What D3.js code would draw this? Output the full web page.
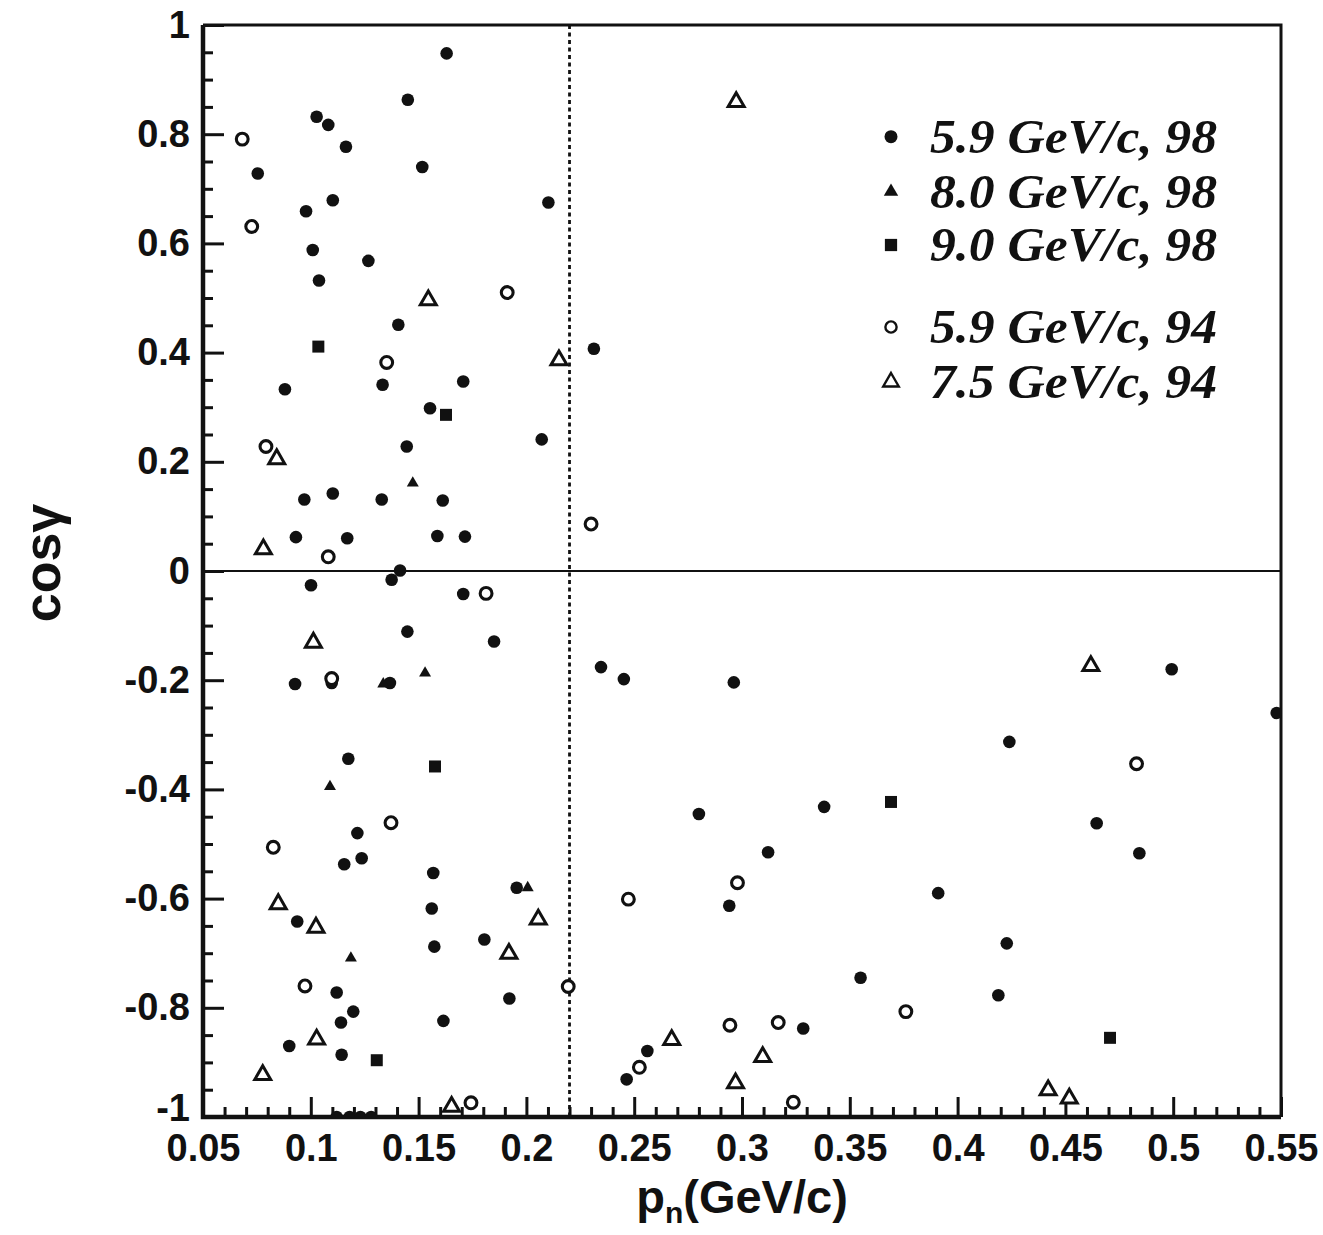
<!DOCTYPE html>
<html>
<head>
<meta charset="utf-8">
<script src="https://cdn.jsdelivr.net/npm/d3@7"></script>
<style>
  html, body { margin: 0; padding: 0; background: #fff; }
  svg { display: block; }
</style>
</head>
<body>
<svg id="chart" width="1323" height="1235"></svg>
<script>
// Axis ticks and labels
const xTicks = [0.05, 0.1, 0.15, 0.2, 0.25, 0.3, 0.35, 0.4, 0.45, 0.5, 0.55];
const xTickLabels = ["0.05", "0.1", "0.15", "0.2", "0.25", "0.3", "0.35", "0.4", "0.45", "0.5", "0.55"];
const yTicks = [-1, -0.8, -0.6, -0.4, -0.2, 0, 0.2, 0.4, 0.6, 0.8, 1];
const yTickLabels = ["-1", "-0.8", "-0.6", "-0.4", "-0.2", "0", "0.2", "0.4", "0.6", "0.8", "1"];
const cutMomentum = 0.22;

// Series: [p_n (GeV/c), cos gamma]
const filledCircle59_98 = [
  [0.163, 0.948], [0.145, 0.863], [0.1027, 0.832], [0.1081, 0.817], [0.1163, 0.777],
  [0.1517, 0.740], [0.0754, 0.728], [0.1102, 0.679], [0.2102, 0.675], [0.0978, 0.659],
  [0.1009, 0.588], [0.1267, 0.568], [0.1038, 0.532], [0.1406, 0.451], [0.2313, 0.407],
  [0.088, 0.333], [0.1333, 0.341], [0.1707, 0.347], [0.1553, 0.298], [0.2071, 0.241],
  [0.1445, 0.228], [0.097, 0.131], [0.1102, 0.142], [0.1329, 0.131], [0.1612, 0.129],
  [0.0931, 0.062], [0.1169, 0.060], [0.1587, 0.064], [0.1715, 0.063], [0.1414, 0.001],
  [0.1375, -0.016], [0.1001, -0.026], [0.1707, -0.042], [0.1448, -0.111], [0.185, -0.129],
  [0.0927, -0.207], [0.1097, -0.205], [0.1367, -0.205], [0.1174, -0.344], [0.1216, -0.480],
  [0.1155, -0.537], [0.1236, -0.526], [0.1568, -0.553], [0.1561, -0.618], [0.1955, -0.580],
  [0.0937, -0.642], [0.1573, -0.688], [0.1805, -0.675], [0.112, -0.772], [0.1921, -0.783],
  [0.1197, -0.807], [0.114, -0.827], [0.1615, -0.824], [0.09, -0.870], [0.1143, -0.886],
  [0.2346, -0.176], [0.2452, -0.198], [0.2962, -0.204], [0.28, -0.445], [0.3121, -0.515],
  [0.3381, -0.432], [0.391, -0.590], [0.2941, -0.613], [0.355, -0.745], [0.3284, -0.838],
  [0.2561, -0.879], [0.2465, -0.931], [0.4993, -0.180], [0.548, -0.260], [0.424, -0.313],
  [0.4645, -0.462], [0.4843, -0.517], [0.4228, -0.682], [0.4189, -0.777],
  [0.112, -1.0], [0.118, -1.0], [0.123, -1.0], [0.128, -1.0]
];
const filledTriangle80_98 = [
  [0.1473, 0.161], [0.153, -0.187], [0.1336, -0.207], [0.1089, -0.395], [0.2006, -0.580],
  [0.1186, -0.709]
];
const filledSquare90_98 = [
  [0.1035, 0.411], [0.1627, 0.286], [0.1576, -0.358], [0.3691, -0.423], [0.1306, -0.896],
  [0.4707, -0.855]
];
const openCircle59_94 = [
  [0.0682, 0.791], [0.0726, 0.631], [0.1911, 0.510], [0.1352, 0.382], [0.0792, 0.228],
  [0.230, 0.086], [0.1081, 0.026], [0.1813, -0.041], [0.1097, -0.197], [0.1372, -0.461],
  [0.0826, -0.506], [0.0973, -0.760], [0.2194, -0.761], [0.1743, -0.974], [0.2979, -0.571],
  [0.2473, -0.601], [0.376, -0.807], [0.2944, -0.832], [0.3168, -0.827], [0.2524, -0.909],
  [0.3238, -0.973], [0.483, -0.353]
];
const openTriangle75_94 = [
  [0.2973, 0.859], [0.1545, 0.496], [0.2151, 0.386], [0.0842, 0.205], [0.078, 0.040],
  [0.1012, -0.131], [0.0849, -0.610], [0.1024, -0.653], [0.2055, -0.638], [0.1919, -0.701],
  [0.1027, -0.858], [0.0777, -0.923], [0.1653, -0.981], [0.2674, -0.859], [0.3096, -0.890],
  [0.297, -0.938], [0.4618, -0.174], [0.442, -0.951], [0.4518, -0.966]
];

const legendLabels = ["5.9 GeV/c, 98", "8.0 GeV/c, 98", "9.0 GeV/c, 98", "5.9 GeV/c, 94", "7.5 GeV/c, 94"];

// Layout
const plotLeft = 203, plotTop = 25, plotRight = 1281, plotBottom = 1117;
const ink = "#111";

const svg = d3.select("#chart");
const x = d3.scaleLinear().domain([0.05, 0.55]).range([plotLeft, plotRight]);
const y = d3.scaleLinear().domain([-1, 1]).range([plotBottom, plotTop]);

svg.append("defs").append("clipPath").attr("id", "plotClip")
  .append("rect").attr("x", plotLeft).attr("y", plotTop)
  .attr("width", plotRight - plotLeft).attr("height", plotBottom - plotTop);

// Minor ticks
const xMinor = d3.range(0.05, 0.5501, 0.01).map(v => +v.toFixed(3)).filter(v => !xTicks.some(t => Math.abs(t - v) < 1e-6));
const yMinor = d3.range(-1, 1.0001, 0.05).map(v => +v.toFixed(3)).filter(v => !yTicks.some(t => Math.abs(t - v) < 1e-6));

const tickFont = "'Liberation Sans', Arial, Helvetica, sans-serif";

const gxMinor = svg.append("g").attr("transform", `translate(0,${plotBottom})`)
  .call(d3.axisBottom(x).tickValues(xMinor).tickSize(-10).tickFormat(""));
const gx = svg.append("g").attr("transform", `translate(0,${plotBottom})`)
  .call(d3.axisBottom(x).tickValues(xTicks).tickSize(-20).tickPadding(17)
    .tickFormat((d, i) => xTickLabels[i]));
const gyMinor = svg.append("g").attr("transform", `translate(${plotLeft},0)`)
  .call(d3.axisLeft(y).tickValues(yMinor).tickSize(-10).tickFormat(""));
const gy = svg.append("g").attr("transform", `translate(${plotLeft},0)`)
  .call(d3.axisLeft(y).tickValues(yTicks).tickSize(-21).tickPadding(13)
    .tickFormat((d, i) => yTickLabels[i]));

[gxMinor, gx, gyMinor, gy].forEach(g => {
  g.select(".domain").remove();
  g.selectAll(".tick line").attr("stroke", ink).attr("stroke-width", 3);
  g.selectAll(".tick text").attr("fill", ink)
    .style("font-family", tickFont).style("font-weight", "bold").style("font-size", "38px");
});
// the bottom y label sits just above the x labels
gy.selectAll(".tick text").filter(d => d === -1).attr("dy", "0.1em");

// Zero line and momentum cut
svg.append("line")
  .attr("x1", plotLeft).attr("x2", plotRight).attr("y1", y(0)).attr("y2", y(0))
  .attr("stroke", ink).attr("stroke-width", 2.2);
svg.append("line")
  .attr("x1", x(cutMomentum)).attr("x2", x(cutMomentum)).attr("y1", plotTop).attr("y2", plotBottom)
  .attr("stroke", ink).attr("stroke-width", 2.8).attr("stroke-dasharray", "4,3.5");

// Frame
svg.append("path")
  .attr("d", `M${plotLeft},${plotTop}H${plotRight}V${plotBottom}`)
  .attr("fill", "none").attr("stroke", ink).attr("stroke-width", 3);
svg.append("path")
  .attr("d", `M${plotLeft},${plotTop}V${plotBottom}H${plotRight}`)
  .attr("fill", "none").attr("stroke", ink).attr("stroke-width", 4.5);

// Marker styles
const styles = {
  filledCircle: { type: d3.symbolCircle, size: Math.PI * 6.3 * 6.3, fill: ink, stroke: "none", sw: 0 },
  filledTriangle: { type: d3.symbolTriangle, size: 62, fill: ink, stroke: "none", sw: 0 },
  filledSquare: { type: d3.symbolSquare, size: 144, fill: ink, stroke: "none", sw: 0 },
  openCircle: { type: d3.symbolCircle, size: Math.PI * 5.9 * 5.9, fill: "#fff", stroke: ink, sw: 3.1 },
  openTriangle: { type: d3.symbolTriangle, size: 110, fill: "#fff", stroke: ink, sw: 3 }
};

const series = [
  { data: filledCircle59_98, style: styles.filledCircle },
  { data: filledTriangle80_98, style: styles.filledTriangle },
  { data: filledSquare90_98, style: styles.filledSquare },
  { data: openCircle59_94, style: styles.openCircle },
  { data: openTriangle75_94, style: styles.openTriangle }
];

const marks = svg.append("g").attr("clip-path", "url(#plotClip)");
series.forEach(s => {
  const sym = d3.symbol().type(s.style.type).size(s.style.size);
  marks.append("g").selectAll("path").data(s.data).join("path")
    .attr("d", sym)
    .attr("transform", d => `translate(${x(d[0])},${y(d[1])})`)
    .attr("fill", s.style.fill)
    .attr("stroke", s.style.stroke)
    .attr("stroke-width", s.style.sw);
});

// Legend
const legendRows = [136.7, 191.7, 245, 327, 382];
const legendStyles = [
  { style: styles.filledCircle, size: Math.PI * 6.5 * 6.5 },
  { style: styles.filledTriangle, size: 90 },
  { style: styles.filledSquare, size: 150 },
  { style: styles.openCircle, size: Math.PI * 5.6 * 5.6 },
  { style: styles.openTriangle, size: 105 }
];
const legend = svg.append("g");
legendLabels.forEach((label, i) => {
  const ls = legendStyles[i];
  legend.append("path")
    .attr("d", d3.symbol().type(ls.style.type).size(ls.size)())
    .attr("transform", `translate(891,${legendRows[i]})`)
    .attr("fill", ls.style.fill)
    .attr("stroke", ls.style.stroke)
    .attr("stroke-width", ls.style.sw === 0 ? 0 : 2.4);
  legend.append("text")
    .attr("x", 930).attr("y", legendRows[i] + 16)
    .attr("fill", ink)
    .attr("textLength", 287).attr("lengthAdjust", "spacingAndGlyphs")
    .style("font-family", "'Liberation Serif', 'Times New Roman', serif")
    .style("font-style", "italic").style("font-weight", "bold")
    .style("font-size", "48px")
    .text(label);
});

// Axis titles
const xTitle = svg.append("text")
  .attr("x", 742).attr("y", 1213)
  .attr("text-anchor", "middle").attr("fill", ink)
  .style("font-family", tickFont).style("font-weight", "bold").style("font-size", "47px");
xTitle.append("tspan").text("p");
xTitle.append("tspan").attr("dy", 10).style("font-size", "30px").text("n");
xTitle.append("tspan").attr("dy", -10).text("(GeV/c)");

svg.append("text")
  .attr("transform", `translate(60,563) rotate(-90)`)
  .attr("text-anchor", "middle").attr("fill", ink)
  .style("font-family", tickFont).style("font-weight", "bold").style("font-size", "52px")
  .text("cosγ");
</script>
</body>
</html>
